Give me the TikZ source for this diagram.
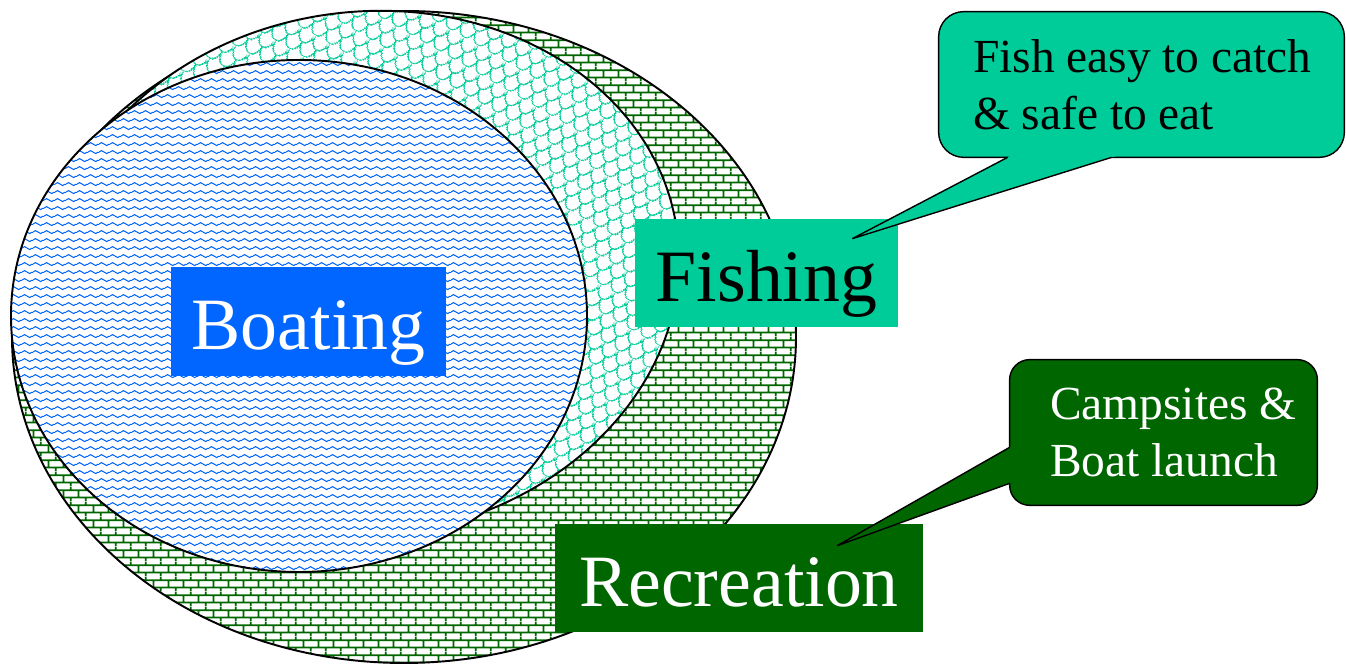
\documentclass[tikz,border=0pt]{standalone}
\usepackage{fontspec}
\setmainfont{Liberation Serif}
\usetikzlibrary{patterns.meta,calc}
\definecolor{azulnav}{HTML}{0066FF}
\definecolor{verdepes}{HTML}{00CC99}
\definecolor{verderec}{HTML}{006600}
% patron de ladrillos
\tikzdeclarepattern{
name=ladrillos,
type=colored,
bottom left={(0pt,0pt)},
top right={(8.6pt,8.6pt)},
tile size={(8.6pt,8.6pt)},
code={
\draw [verderec, line width=1.1pt]
(0pt,2.15pt) -- (8.6pt,2.15pt)
(0pt,6.45pt) -- (8.6pt,6.45pt)
(2.15pt,2.15pt) -- (2.15pt,6.45pt)
(6.45pt,6.45pt) -- (6.45pt,8.6pt)
(6.45pt,0pt) -- (6.45pt,2.15pt);
}
}
% patron de escamas
\tikzdeclarepattern{
name=escamas,
type=colored,
bottom left={(0pt,0pt)},
top right={(9pt,14pt)},
tile size={(9pt,14pt)},
tile transformation={rotate=-30},
code={
\draw [verdepes, line width=0.7pt]
(0pt,14pt) arc (180:360:4.5pt and 7pt)
(-4.5pt,7pt) arc (180:360:4.5pt and 7pt)
(4.5pt,7pt) arc (180:360:4.5pt and 7pt);
}
}
% patron de olas
\tikzdeclarepattern{
name=olas,
type=colored,
bottom left={(0pt,0pt)},
top right={(6.3pt,4.5pt)},
tile size={(6.3pt,4.5pt)},
code={
\draw [azulnav, line width=0.6pt]
(0pt,2.25pt) sin (1.575pt,3.1pt) cos (3.15pt,2.25pt)
sin (4.725pt,1.4pt) cos (6.3pt,2.25pt);
}
}

\begin{document}
\begin{tikzpicture}
% estilos de linea y relleno
\tikzstyle{borde} = [black, line width=1.1pt]
\tikzstyle{rotulo} = [inner sep=0pt, text height=1.14cm, text depth=0pt, font=\fontsize{42}{50}\selectfont]
\tikzstyle{caja} = [inner sep=0pt, minimum height=2.90cm]
\tikzstyle{globo} = [draw=black, line width=0.8pt, rounded corners=0.5cm]
\tikzstyle{puntero} = [black, line width=0.8pt, line join=miter]
\tikzstyle{textoglobo} = [inner sep=0pt, anchor=west, align=left, font=\fontsize{27}{32.4}\selectfont]
% marco del dibujo
\useasboundingbox (0.000000,0.000000) rectangle (26.920000,13.320000);
% dibujar conjuntos
\draw[borde, preaction={fill=white}, pattern=ladrillos] (8.080000,6.580000) ellipse [x radius=7.84, y radius=6.52];
\draw[borde, preaction={fill=white}, pattern=escamas, rotate around={8:(7.280000,7.840000)}] (7.280000,7.840000) ellipse [x radius=6.32, y radius=5.24];
\draw[borde, preaction={fill=white}, pattern=olas] (5.980000,7.000000) ellipse [x radius=5.76, y radius=5.12];
% dibujar rotulos
\node[rotulo, fill=azulnav, text=white, minimum width=5.50cm, minimum height=2.18cm] (navegacion) at (6.170000,6.890000) {Boating};
\node[rotulo, fill=verdepes, text=black, minimum width=5.26cm, minimum height=2.16cm] (pesca) at (15.330000,7.860000) {Fishing};
\node[rotulo, fill=verderec, text=white, minimum width=7.36cm, minimum height=2.16cm] (recreacion) at (14.780000,1.760000) {Recreation};
% globo de pesca
\node[caja, minimum width=8.10cm] (globopesca) at (22.830000,11.630000) {};
\coordinate (pa) at ([xshift=1.38cm]globopesca.south west);
\coordinate (pb) at ([xshift=3.46cm]globopesca.south west);
\coordinate (puntapesca) at ([shift={(-0.92,-0.40)}]pesca.north east);
\draw[globo, fill=verdepes] (globopesca.south west) rectangle (globopesca.north east);
\fill[verdepes] ($(pa)!-0.1cm!(puntapesca)$) -- (puntapesca) -- ($(pb)!-0.1cm!(puntapesca)$) -- cycle;
\draw[puntero] (pa) -- (puntapesca) -- (pb);
\node[textoglobo, text=black] (textopesca) at ([xshift=0.68cm]globopesca.west) {Fish easy to catch\\\& safe to eat};
% globo de recreacion
\node[caja, minimum width=6.14cm] (globorecre) at (23.270000,4.670000) {};
\coordinate (ra) at ([yshift=1.16cm]globorecre.south west);
\coordinate (rb) at ([yshift=0.44cm]globorecre.south west);
\coordinate (puntarecre) at ([shift={(-1.72,-0.44)}]recreacion.north east);
\draw[globo, rounded corners=0.4cm, fill=verderec] (globorecre.south west) rectangle (globorecre.north east);
\fill[verderec] ($(ra)!-0.1cm!(puntarecre)$) -- (puntarecre) -- ($(rb)!-0.1cm!(puntarecre)$) -- cycle;
\draw[puntero] (ra) -- (puntarecre) -- (rb);
\node[textoglobo, text=white] (textorecre) at ([xshift=0.80cm]globorecre.west) {Campsites \&\\Boat launch};
\end{tikzpicture}
\end{document}
